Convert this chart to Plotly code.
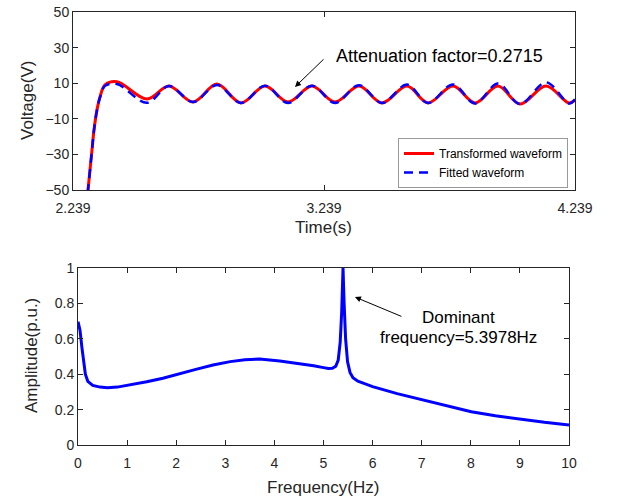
import plotly.graph_objects as go

# ---------------- Top panel data (time in s, voltage in V) ----------------
t_trans = [2.2916, 2.2988, 2.3147, 2.3227, 2.3346, 2.3466, 2.3665, 2.4143, 2.5338, 2.6215,
           2.7171, 2.8127, 2.9083, 3.0040, 3.0956, 3.1912, 3.2828, 3.3785, 3.4701, 3.5697,
           3.6534, 3.7529, 3.8406, 3.9322, 4.0199, 4.1235, 4.2151, 4.2390]
v_trans = [-60, -50, -27.5, -16.3, -5.0, 2.2, 9.0, 10.8, 1.1, 8.4,
           -0.6, 9.5, -1.1, 8.4, -0.6, 8.4, -0.6, 8.4, -1.1, 8.4,
           -1.1, 8.4, -1.1, 8.4, -1.7, 8.4, -1.1, 0.6]

t_fit = t_trans
v_fit = [-60, -50, -27.5, -16.3, -5.0, 2.0, 8.5, 9.5, -1.0, 8.4,
         -0.6, 9.0, -1.1, 8.6, -1.1, 8.6, -1.1, 8.9, -1.1, 9.2,
         -1.1, 9.3, -1.4, 9.8, -1.7, 10.5, -1.4, 1.0]

t_ticks = [2.239, 3.239, 4.239]
t_ticklabels = ["2.239", "3.239", "4.239"]
v_ticks = [-50, -30, -10, 10, 30, 50]

# ---------------- Bottom panel data (frequency in Hz, amplitude in p.u.) ----------------
freq = [0, 0.04, 0.08, 0.11, 0.15, 0.2, 0.3, 0.45, 0.6, 0.8, 1.06, 1.4, 1.73, 2.08, 2.4,
        2.75, 3.1, 3.4, 3.7, 4.11, 4.52, 4.8, 5.0, 5.1, 5.18, 5.25, 5.30, 5.34, 5.37,
        5.3978, 5.42, 5.45, 5.49, 5.54, 5.6, 5.7, 5.85, 6.0, 6.5, 7.0, 7.58, 8.01, 8.5,
        9.0, 9.5, 10]
amp = [0.697, 0.65, 0.55, 0.48, 0.40, 0.36, 0.337, 0.327, 0.324, 0.327, 0.339, 0.357,
       0.377, 0.401, 0.427, 0.452, 0.471, 0.482, 0.486, 0.475, 0.461, 0.448, 0.437, 0.432,
       0.433, 0.445, 0.48, 0.58, 0.75, 1.0, 0.80, 0.60, 0.47, 0.41, 0.38, 0.36, 0.345,
       0.33, 0.29, 0.255, 0.216, 0.188, 0.165, 0.145, 0.128, 0.113]

f_ticks = list(range(0, 11))
a_ticks = [0, 0.2, 0.4, 0.6, 0.8, 1]
a_ticklabels = ["0", "0.2", "0.4", "0.6", "0.8", "1"]

FONT = "Arial, Liberation Sans, sans-serif"
INK = "#262626"

W, H = 617, 498


def px_x(p):
    return p / W


def px_y(p):
    return 1 - p / H


fig = go.Figure()
fig.add_trace(go.Scatter(x=t_trans, y=v_trans, mode="lines", name="Transformed waveform",
                         line=dict(color="#ff0000", width=3, shape="spline"),
                         xaxis="x", yaxis="y"))
fig.add_trace(go.Scatter(x=t_fit, y=v_fit, mode="lines", name="Fitted waveform",
                         line=dict(color="#0000ff", width=2.5, dash="9px,6px", shape="spline"),
                         xaxis="x", yaxis="y"))
fig.add_trace(go.Scatter(x=freq, y=amp, mode="lines", showlegend=False,
                         line=dict(color="#0000ff", width=3),
                         xaxis="x2", yaxis="y2"))

axis_common = dict(showgrid=False, zeroline=False, showline=True, linecolor=INK, linewidth=1,
                   mirror="ticks", ticks="inside", ticklen=5, tickcolor=INK, tickwidth=1,
                   automargin=False,
                   tickfont=dict(family=FONT, size=14, color=INK))

fig.update_layout(
    width=W, height=H, autosize=False,
    margin=dict(l=0, r=0, t=0, b=0, pad=0, autoexpand=False),
    paper_bgcolor="white", plot_bgcolor="white",
    showlegend=True,
    xaxis=dict(domain=[px_x(73), px_x(575)], range=[2.239, 4.239], tickvals=t_ticks,
               ticktext=t_ticklabels, anchor="y", ticklabelstandoff=5, **axis_common),
    yaxis=dict(domain=[px_y(190), px_y(12)], range=[-50, 50], tickvals=v_ticks,
               anchor="x", **axis_common),
    xaxis2=dict(domain=[px_x(78), px_x(569)], range=[0, 10], tickvals=f_ticks,
                anchor="y2", ticklabelstandoff=5, **axis_common),
    yaxis2=dict(domain=[px_y(445), px_y(268)], range=[0, 1], tickvals=a_ticks,
                ticktext=a_ticklabels, anchor="x2", **axis_common),
    legend=dict(x=px_x(568), y=px_y(188), xanchor="right", yanchor="bottom",
                bgcolor="white", bordercolor="#999999", borderwidth=1,
                font=dict(family=FONT, size=12, color="black"),
                tracegroupgap=0),
)


def label(text, x, y, size, color=INK, angle=0, xanchor="center"):
    return dict(text=text, x=px_x(x), y=px_y(y), xref="paper", yref="paper",
                xanchor=xanchor, yanchor="middle", textangle=angle, showarrow=False,
                font=dict(family=FONT, size=size, color=color))


annos = [
    label("Voltage(V)", 28, 101, 17, angle=-90),
    label("Time(s)", 323, 228, 17),
    label("Amplitude(p.u.)", 31, 356, 17, angle=-90),
    label("Frequency(Hz)", 323, 487, 17),
    # top arrow + text
    dict(text="", x=3.1234, y=7.9, xref="x", yref="y", ax=30, ay=-29,
         showarrow=True, arrowhead=2, arrowsize=1.2, arrowwidth=1, arrowcolor="black"),
    label("Attenuation factor=0.2715", 334, 56, 18, color="black", xanchor="left"),
    # bottom arrow + text
    dict(text="", x=5.64, y=0.836, xref="x2", yref="y2", ax=48, ay=20,
         showarrow=True, arrowhead=2, arrowsize=1.2, arrowwidth=1, arrowcolor="black"),
    label("Dominant", 458, 317, 17, color="black"),
    label("frequency=5.3978Hz", 458, 337, 17, color="black"),
]
fig.update_layout(annotations=annos)

# remove the page's default 8px body margin so the figure fills the window exactly
fig.write_html("out.html", config={"displayModeBar": False},
               post_script="document.body.style.margin='0px';")
